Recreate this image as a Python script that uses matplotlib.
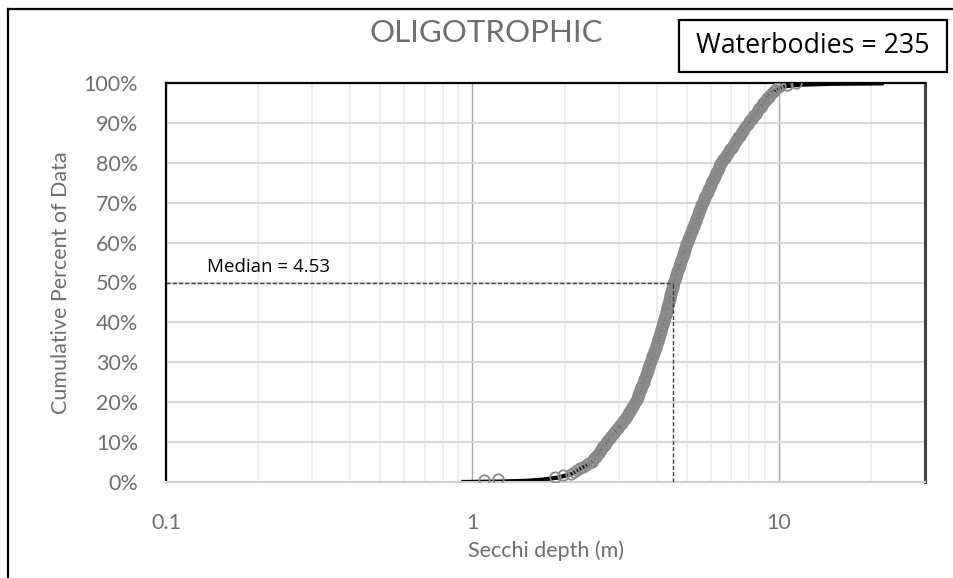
import matplotlib
matplotlib.use("Agg")
import matplotlib.pyplot as plt
from matplotlib.lines import Line2D
from matplotlib.patches import Rectangle
from matplotlib.ticker import FixedLocator, NullFormatter
import numpy as np

secchi_depth = [
    1.09, 1.21, 1.86, 1.98, 2.10,
    2.15, 2.20, 2.25, 2.30, 2.35, 2.40, 2.45,
    2.48, 2.50, 2.53, 2.55, 2.58, 2.60, 2.62, 2.65, 2.67, 2.70, 2.72, 2.75,
    2.78, 2.81, 2.84, 2.87, 2.90, 2.93, 2.96, 2.99, 3.02, 3.05, 3.08, 3.11,
    3.14, 3.17, 3.20, 3.22, 3.25, 3.27, 3.30, 3.32, 3.35, 3.37, 3.40,
    3.42, 3.44, 3.46, 3.47, 3.49, 3.51, 3.52, 3.54, 3.56, 3.58, 3.60, 3.62,
    3.63, 3.65, 3.67, 3.68, 3.70, 3.72, 3.73, 3.75, 3.77, 3.78, 3.80,
    3.82, 3.84, 3.85, 3.87, 3.89, 3.90, 3.92, 3.94, 3.96, 3.97, 3.99, 4.00,
    4.02, 4.04, 4.05, 4.07, 4.09, 4.10, 4.12, 4.13, 4.15, 4.16, 4.18, 4.19,
    4.21, 4.22, 4.24, 4.25, 4.27, 4.28, 4.30, 4.31, 4.33, 4.34, 4.36, 4.37,
    4.38, 4.40, 4.41, 4.43, 4.44, 4.45, 4.47, 4.48, 4.50, 4.51, 4.53,
    4.55, 4.57, 4.59, 4.61, 4.63, 4.65, 4.67, 4.69, 4.71, 4.73, 4.75, 4.77,
    4.79, 4.81, 4.83, 4.85, 4.87, 4.89, 4.91, 4.93, 4.95, 4.97, 4.99, 5.01,
    5.04, 5.06, 5.09, 5.12, 5.14, 5.17, 5.20, 5.22, 5.25, 5.28, 5.30, 5.33,
    5.36, 5.38, 5.41, 5.44, 5.46, 5.49, 5.51, 5.54, 5.56, 5.59, 5.61,
    5.65, 5.68, 5.72, 5.75, 5.79, 5.82, 5.86, 5.89, 5.93, 5.96, 6.00, 6.03,
    6.07, 6.10, 6.14, 6.18, 6.21, 6.25, 6.29, 6.32, 6.36, 6.40, 6.43, 6.47,
    6.53, 6.59, 6.65, 6.71, 6.77, 6.83, 6.89, 6.95, 7.01, 7.07, 7.13, 7.20,
    7.26, 7.32, 7.38, 7.45, 7.51, 7.58, 7.64, 7.71, 7.78, 7.85, 7.93,
    8.00, 8.08, 8.16, 8.24, 8.32, 8.40, 8.48, 8.56, 8.64, 8.72, 8.80, 8.87,
    8.97, 9.07, 9.17, 9.28, 9.39, 9.50, 9.62, 9.75, 9.90, 10.1, 10.6, 11.4,
]

# Black reference curve (depth, cumulative %)
curve_depth = [0.92, 1.20, 1.50, 1.70, 1.90, 2.10, 2.46, 2.75, 3.10, 3.40, 3.80,
               4.19, 4.53, 5.01, 5.61, 6.47, 7.93, 8.87, 9.60, 10.5, 12.0, 15.0, 22.0]
curve_pct = [0.0, 0.1, 0.3, 0.6, 1.1, 2.0, 5.0, 10.0, 15.0, 20.0, 30.0,
             40.0, 50.0, 60.0, 70.0, 80.0, 90.0, 95.0, 97.8, 99.2, 99.6, 99.8, 99.9]

median_value = 4.53
n_waterbodies = 235
title = "OLIGOTROPHIC"
x_ticks = [0.1, 1, 10]
x_tick_labels = ["0.1", "1", "10"]
y_ticks = list(range(0, 101, 10))
y_tick_labels = [f"{v}%" for v in y_ticks]

FONT = ["Lato", "DejaVu Sans"]
plt.rcParams["font.family"] = FONT

fig = plt.figure(figsize=(9.54, 5.78), dpi=100)
ax = fig.add_axes([166 / 954, 1 - 482 / 578, (925 - 166) / 954, (482 - 83) / 578])

ax.set_xscale("log")
ax.set_xlim(0.1, 30)
ax.set_ylim(0, 100)

# grid
minor = [m * 10.0 ** e for e in (-1, 0, 1) for m in range(2, 10) if m * 10.0 ** e < 30]
ax.xaxis.set_minor_locator(FixedLocator(minor))
ax.xaxis.set_minor_formatter(NullFormatter())
ax.set_xticks(x_ticks)
ax.set_xticklabels(x_tick_labels)
ax.set_yticks(y_ticks)
ax.set_yticklabels(y_tick_labels)
ax.grid(True, which="minor", axis="x", color="#ececec", lw=1.2, zorder=0)
ax.grid(True, which="major", axis="x", color="#a6a6a6", lw=1.0, zorder=0)
ax.grid(True, which="major", axis="y", color="#d9d9d9", lw=1.5, zorder=0)
ax.tick_params(axis="both", which="both", length=0, labelsize=15.5, colors="#6e6e6e")
ax.tick_params(axis="x", pad=22)
ax.tick_params(axis="y", pad=20)

for s in ("left", "top"):
    ax.spines[s].set_color("black")
    ax.spines[s].set_linewidth(1.6)
ax.spines["right"].set_color("#404040")
ax.spines["right"].set_linewidth(2.2)
ax.spines["bottom"].set_color("#d0d0d0")
ax.spines["bottom"].set_linewidth(1.5)

# data
ax.plot(curve_depth, curve_pct, color="black", lw=3, zorder=2, solid_capstyle="butt")
n = len(secchi_depth)
pct = [100.0 * (i + 1) / n for i in range(n)]
ax.plot(secchi_depth, pct, linestyle="none", marker="o", ms=7.5, mfc="none",
        mec="#8a8a8a", mew=1.3, zorder=3)

# median guides
ax.plot([0.1, median_value], [50, 50], color="#404040", lw=1.0, ls=(0, (3, 1.5)), zorder=4)
ax.plot([median_value, median_value], [0, 50], color="#404040", lw=1.0, ls=(0, (3, 1.5)), zorder=4)
ax.text(0.136, 54, f"Median = {median_value}", fontsize=13.5, color="black",
        family=["Open Sans", "DejaVu Sans"], va="center", ha="left")

ax.set_xlabel("Secchi depth (m)", fontsize=15.5, color="#6e6e6e", labelpad=6)
ax.set_ylabel("Cumulative Percent of Data", fontsize=15.5, color="#6e6e6e", labelpad=9)

fig.text(486 / 954, 1 - 33 / 578, title, fontsize=22.5, color="#6e6e6e",
         ha="center", va="center")

# Waterbodies box
fig.add_artist(Rectangle((679 / 954, 1 - 72 / 578), (947 - 679) / 954, 52 / 578,
                         transform=fig.transFigure, fc="white", ec="black", lw=1.6,
                         zorder=5))
fig.text((679 + 947) / 2 / 954, 1 - 46 / 578, f"Waterbodies = {n_waterbodies}",
         fontsize=19.3, color="black", ha="center", va="center",
         family=["Open Sans", "DejaVu Sans"], zorder=6)

# outer chart frame (left and top edges visible)
fig.add_artist(Line2D([8.5 / 954, 8.5 / 954], [0, 1 - 8.5 / 578], color="black", lw=1.6,
                      transform=fig.transFigure))
fig.add_artist(Line2D([8.5 / 954, 1], [1 - 8.5 / 578, 1 - 8.5 / 578], color="black", lw=1.6,
                      transform=fig.transFigure))

fig.savefig("out.png", dpi=100)
